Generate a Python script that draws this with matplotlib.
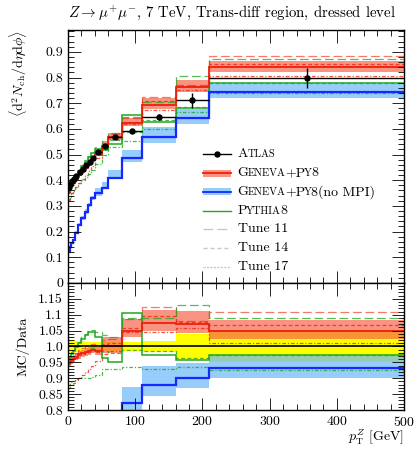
import numpy as np
import matplotlib
matplotlib.use("Agg")
import matplotlib.pyplot as plt
from matplotlib.ticker import MultipleLocator, FuncFormatter
from matplotlib.offsetbox import TextArea, HPacker, DrawingArea, AnchoredOffsetbox
from matplotlib.lines import Line2D
from matplotlib.patches import Rectangle

plt.rcParams["font.family"] = "cmr10"
plt.rcParams["mathtext.fontset"] = "cm"
plt.rcParams["axes.formatter.use_mathtext"] = True

# pT^Z bin edges [GeV]
edges = np.array([0, 2.5, 5, 7.5, 10, 15, 20, 25, 30, 35, 40, 50, 60, 80, 110, 160, 210, 500])

# ATLAS data
data = np.array([0.372, 0.385, 0.396, 0.405, 0.418, 0.432, 0.445, 0.458, 0.470, 0.485,
                 0.508, 0.535, 0.568, 0.592, 0.646, 0.712, 0.800])
data_err = np.array([0.009, 0.008, 0.008, 0.008, 0.007, 0.007, 0.007, 0.007, 0.007, 0.007,
                     0.007, 0.008, 0.008, 0.008, 0.012, 0.029, 0.039])

# Geneva+Py8 (MC/data)
gen = [0.948, 0.952, 0.957, 0.962, 0.968, 0.975, 0.978, 0.982, 0.985, 0.99, 0.985, 1.0, 1.0, 1.05, 1.074, 1.071, 1.05]
gen_lo = [0.936, 0.940, 0.945, 0.950, 0.956, 0.962, 0.966, 0.970, 0.973, 0.978, 0.972, 0.98, 0.98, 1.03, 1.05, 1.043, 1.025]
gen_hi = [0.960, 0.964, 0.969, 0.974, 0.980, 0.987, 0.990, 0.994, 0.997, 1.002, 0.998, 1.03, 1.03, 1.087, 1.115, 1.112, 1.082]
gen_t11 = [0.958, 0.962, 0.968, 0.974, 0.98, 0.988, 0.994, 1.0, 1.004, 1.008, 1.005, 1.02, 1.022, 1.087, 1.123, 1.081, 1.107]
gen_t14 = [0.944, 0.948, 0.954, 0.96, 0.965, 0.972, 0.976, 0.98, 0.984, 0.988, 0.982, 1.008, 1.01, 1.058, 1.095, 1.078, 1.067]
gen_t17 = [0.87, 0.874, 0.88, 0.886, 0.893, 0.902, 0.91, 0.92, 0.93, 0.94, 0.955, 0.975, 0.985, 1.045, 1.045, 1.058, 1.01]

# Geneva+Py8 without MPI (absolute)
nompi = np.array([0.122, 0.139, 0.155, 0.167, 0.196, 0.226, 0.252, 0.278, 0.304, 0.33,
                  0.35, 0.37, 0.407, 0.487, 0.567, 0.642, 0.745])
nompi_lo = np.array([0.118, 0.135, 0.150, 0.162, 0.190, 0.220, 0.245, 0.270, 0.297, 0.322,
                     0.340, 0.368, 0.405, 0.470, 0.546, 0.619, 0.720])
nompi_hi = np.array([0.126, 0.143, 0.160, 0.172, 0.202, 0.232, 0.260, 0.287, 0.312, 0.340,
                     0.370, 0.394, 0.440, 0.517, 0.607, 0.676, 0.776])

# Pythia8 (MC/data)
py8 = [0.96, 0.966, 0.975, 0.985, 0.997, 1.012, 1.025, 1.035, 1.045, 1.045, 1.03, 0.965, 0.95, 1.105, 0.972, 0.957, 0.972]
py8_t11 = [0.968, 0.974, 0.982, 0.99, 1.0, 1.015, 1.03, 1.04, 1.05, 1.053, 1.045, 1.035, 1.03, 1.09, 1.09, 1.13, 1.089]
py8_t14 = [0.948, 0.952, 0.958, 0.965, 0.97, 0.975, 0.98, 0.984, 0.99, 0.995, 0.99, 0.985, 0.98, 0.99, 0.985, 0.965, 0.972]
py8_t17 = [0.88, 0.884, 0.888, 0.892, 0.896, 0.9, 0.9, 0.9, 0.902, 0.905, 0.91, 0.93, 0.93, 0.935, 0.928, 0.935, 0.925]

RED = "#f01e0a"
RED_BAND = (0.97, 0.40, 0.30, 0.70)
BLUE = "#1428ff"
BLUE_BAND = (0.43, 0.73, 0.98, 0.72)
GREEN = "#1fa81f"
LONG = (0, (7, 3))
SHORT = (0, (3, 2))
DOTDASH = (0, (3, 1.5, 1, 1.5))

centers = 0.5 * (edges[1:] + edges[:-1])
halfw = 0.5 * (edges[1:] - edges[:-1])

fig = plt.figure(figsize=(4.17, 4.49), dpi=100)
ax = fig.add_axes([0.163, 0.370, 0.806, 0.563])
rx = fig.add_axes([0.163, 0.0869, 0.806, 0.283])

mc_lines = [
    (gen_t11, RED, LONG, 0.9, 0.6), (gen_t14, RED, SHORT, 0.9, 0.75), (gen_t17, RED, DOTDASH, 0.9, 0.75),
    (py8_t11, GREEN, LONG, 0.9, 0.75), (py8_t14, GREEN, SHORT, 0.9, 0.8), (py8_t17, GREEN, DOTDASH, 0.9, 0.8),
    (py8, GREEN, "-", 1.1, 1.0), (gen, RED, "-", 1.3, 1.0),
]

# main panel
d = np.array(data)
ax.stairs(np.array(gen_hi) * d, edges, baseline=np.array(gen_lo) * d, fill=True, color=RED_BAND, lw=0)
ax.stairs(nompi_hi, edges, baseline=nompi_lo, fill=True, color=BLUE_BAND, lw=0)
for vals, c, ls, lw, a in mc_lines:
    ax.stairs(np.array(vals) * d, edges, baseline=None, color=c, ls=ls, lw=lw, alpha=a)
ax.stairs(nompi, edges, baseline=None, color=BLUE, lw=1.6)
ax.errorbar(centers, data, yerr=data_err, xerr=halfw, fmt="o", color="k", ms=3.6, lw=1, capsize=0, zorder=5)

# ratio panel
rel = data_err / data
rx.stairs(1 + rel, edges, baseline=1 - rel, fill=True, color="#ffff00", lw=0)
rx.stairs(gen_hi, edges, baseline=gen_lo, fill=True, color=RED_BAND, lw=0)
rx.stairs(nompi_hi / d, edges, baseline=nompi_lo / d, fill=True, color=BLUE_BAND, lw=0)
for vals, c, ls, lw, a in mc_lines:
    rx.stairs(vals, edges, baseline=None, color=c, ls=ls, lw=lw, alpha=a)
rx.stairs(nompi / d, edges, baseline=None, color=BLUE, lw=1.6)
rx.stairs(np.ones(len(data)), edges, baseline=None, color="k", lw=1.2)

for a_ in (ax, rx):
    a_.set_xlim(0, 500)
    a_.xaxis.set_major_locator(MultipleLocator(100))
    a_.xaxis.set_minor_locator(MultipleLocator(20))
    a_.tick_params(which="both", direction="in", top=True, right=True, width=0.6, labelsize=10)
    a_.tick_params(which="major", length=9)
    a_.tick_params(which="minor", length=4.5)
    for s in a_.spines.values():
        s.set_linewidth(1.0)

ax.set_ylim(0, 0.985)
ax.yaxis.set_major_locator(MultipleLocator(0.1))
ax.yaxis.set_minor_locator(MultipleLocator(0.02))
ax.yaxis.set_major_formatter(FuncFormatter(lambda v, p: "%g" % round(v, 2)))
ax.tick_params(labelbottom=False)

rx.set_ylim(0.8, 1.2)
rx.yaxis.set_major_locator(MultipleLocator(0.05))
rx.yaxis.set_minor_locator(MultipleLocator(0.01))


def rfmt(v, p):
    v = round(v, 3)
    if v > 1.18:
        return ""
    if abs(v - 1) < 1e-6:
        return "1.0"
    return "%g" % v


rx.yaxis.set_major_formatter(FuncFormatter(rfmt))

ax.set_ylabel(r"$\langle \mathrm{d}^2 N_{\mathrm{ch}}/\mathrm{d}\eta\mathrm{d}\phi\rangle$", fontsize=10, loc="top")
ax.yaxis.set_label_coords(-0.115, 1.0)
rx.set_ylabel("MC/Data", fontsize=10)
rx.yaxis.set_label_coords(-0.115, 0.5)
rx.set_xlabel(r"$p_{\mathrm{T}}^{Z}$ [GeV]", fontsize=10, loc="right")
rx.xaxis.set_label_coords(1.0, -0.14)

fig.text(0.163, 0.972, r"$Z \rightarrow \mu^{+}\mu^{-}$, 7 TeV, Trans-diff region, dressed level",
         fontsize=10.7, va="center", ha="left")

# legend
BIG, SMALL = 10, 7.6


def label(parts):
    return HPacker(children=[TextArea(t, textprops=dict(size=BIG if b else SMALL)) for t, b in parts],
                   sep=-0.6, pad=0, align="baseline")


def sample(kind, color=None, ls="-"):
    da = DrawingArea(20, 8, 0, 0)
    if kind == "data":
        da.add_artist(Line2D([0, 20], [4, 4], color="k", lw=1))
        da.add_artist(Line2D([10], [4], marker="o", color="k", ms=3.6))
    elif kind == "band":
        da.add_artist(Rectangle((0, 1.5), 20, 5, color=color[1], lw=0))
        da.add_artist(Line2D([0, 20], [4, 4], color=color[0], lw=1.3))
    else:
        da.add_artist(Line2D([0, 20], [4, 4], color=color, lw=1, ls=ls))
    return da


rows = [
    (sample("data"), [("A", 1), ("TLAS", 0)]),
    (sample("band", (RED, RED_BAND)), [("G", 1), ("ENEVA", 0), ("+P", 1), ("Y", 0), ("8", 1)]),
    (sample("band", (BLUE, BLUE_BAND)), [("G", 1), ("ENEVA", 0), ("+P", 1), ("Y", 0), ("8(no MPI)", 1)]),
    (sample("line", GREEN), [("P", 1), ("YTHIA", 0), ("8", 1)]),
    (sample("line", "#c8c8c8", LONG), [("Tune 11", 1)]),
    (sample("line", "#c8c8c8", SHORT), [("Tune 14", 1)]),
    (sample("line", "#c8c8c8", (0, (1.5, 1))), [("Tune 17", 1)]),
]
row_y = [154.3, 173.3, 191.7, 210.7, 229.3, 248.3, 266.7]
for (da, parts), yy in zip(rows, row_y):
    box = HPacker(children=[da, label(parts)], sep=5, pad=0, align="center")
    anc = AnchoredOffsetbox(loc="center left", child=box, bbox_to_anchor=(203 / 417, 1 - yy / 449),
                            bbox_transform=fig.transFigure, frameon=False, pad=0, borderpad=0)
    fig.add_artist(anc)

fig.savefig("out.png", dpi=100)
